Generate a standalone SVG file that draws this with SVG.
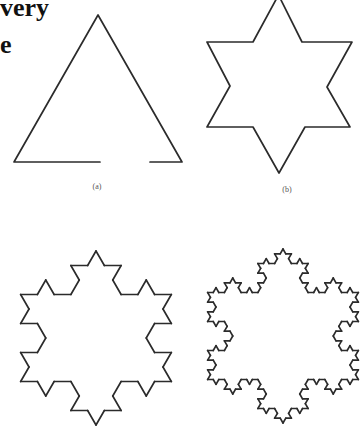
<svg xmlns="http://www.w3.org/2000/svg" xmlns:xlink="http://www.w3.org/1999/xlink" width="364" height="431" viewBox="0 0 364 431">
<style>
.ln{fill:none;stroke:#2b2b2b;stroke-width:1.7;stroke-linecap:round;stroke-linejoin:round}
.hd{font-family:"Liberation Serif",serif;font-weight:bold;font-size:26px;fill:#111}
.lb{font-family:"Liberation Serif",serif;font-size:8px;fill:#555;text-anchor:middle}
</style>
<defs>
<path id="k0a" d="M0,0H1" fill="none" stroke="#2b2b2b" stroke-width="0.1" stroke-linecap="round"/>
<g id="k1a">
<use xlink:href="#k0a" href="#k0a" transform="scale(0.333333)"/>
<use xlink:href="#k0a" href="#k0a" transform="translate(0.333333,0) rotate(-60) scale(0.333333)"/>
<use xlink:href="#k0a" href="#k0a" transform="translate(0.5,-0.288675) rotate(60) scale(0.333333)"/>
<use xlink:href="#k0a" href="#k0a" transform="translate(0.666667,0) scale(0.333333)"/>
</g>
<g id="k2a">
<use xlink:href="#k1a" href="#k1a" transform="scale(0.333333)"/>
<use xlink:href="#k1a" href="#k1a" transform="translate(0.333333,0) rotate(-60) scale(0.333333)"/>
<use xlink:href="#k1a" href="#k1a" transform="translate(0.5,-0.288675) rotate(60) scale(0.333333)"/>
<use xlink:href="#k1a" href="#k1a" transform="translate(0.666667,0) scale(0.333333)"/>
</g>
<path id="k0b" d="M0,0H1" fill="none" stroke="#2b2b2b" stroke-width="0.3" stroke-linecap="round"/>
<g id="k1b">
<use xlink:href="#k0b" href="#k0b" transform="scale(0.333333)"/>
<use xlink:href="#k0b" href="#k0b" transform="translate(0.333333,0) rotate(-60) scale(0.333333)"/>
<use xlink:href="#k0b" href="#k0b" transform="translate(0.5,-0.288675) rotate(60) scale(0.333333)"/>
<use xlink:href="#k0b" href="#k0b" transform="translate(0.666667,0) scale(0.333333)"/>
</g>
<g id="k2b">
<use xlink:href="#k1b" href="#k1b" transform="scale(0.333333)"/>
<use xlink:href="#k1b" href="#k1b" transform="translate(0.333333,0) rotate(-60) scale(0.333333)"/>
<use xlink:href="#k1b" href="#k1b" transform="translate(0.5,-0.288675) rotate(60) scale(0.333333)"/>
<use xlink:href="#k1b" href="#k1b" transform="translate(0.666667,0) scale(0.333333)"/>
</g>
<g id="k3b">
<use xlink:href="#k2b" href="#k2b" transform="scale(0.333333)"/>
<use xlink:href="#k2b" href="#k2b" transform="translate(0.333333,0) rotate(-60) scale(0.333333)"/>
<use xlink:href="#k2b" href="#k2b" transform="translate(0.5,-0.288675) rotate(60) scale(0.333333)"/>
<use xlink:href="#k2b" href="#k2b" transform="translate(0.666667,0) scale(0.333333)"/>
</g>
</defs>
<rect width="364" height="431" fill="#fff"/>
<g id="heading">
<text class="hd" x="0" y="16">very</text>
<text class="hd" x="0" y="53">e</text>
</g>
<g id="triangle">
<path class="ln" d="M150,162 L182,162 L98,15 L14,162 L100,162"/>
<text class="lb" x="97" y="189">(a)</text>
</g>
<g id="star">
<polygon class="ln" points="278.5,-5 302,42 352,42 327,87 350,127 305,127 279,173 253,127 207,127 230,86 207,42 253,42"/>
<text class="lb" x="287" y="192">(b)</text>
</g>
<g id="snowflake2">
<use xlink:href="#k2a" href="#k2a" transform="translate(96,251) rotate(60) scale(150.69)"/>
<use xlink:href="#k2a" href="#k2a" transform="translate(171.35,381.5) rotate(180) scale(150.69)"/>
<use xlink:href="#k2a" href="#k2a" transform="translate(20.65,381.5) rotate(-60) scale(150.69)"/>
</g>
<g id="snowflake3">
<use xlink:href="#k3b" href="#k3b" transform="translate(283,249) rotate(60) scale(150.69)"/>
<use xlink:href="#k3b" href="#k3b" transform="translate(358.35,379.5) rotate(180) scale(150.69)"/>
<use xlink:href="#k3b" href="#k3b" transform="translate(207.65,379.5) rotate(-60) scale(150.69)"/>
</g>
</svg>
